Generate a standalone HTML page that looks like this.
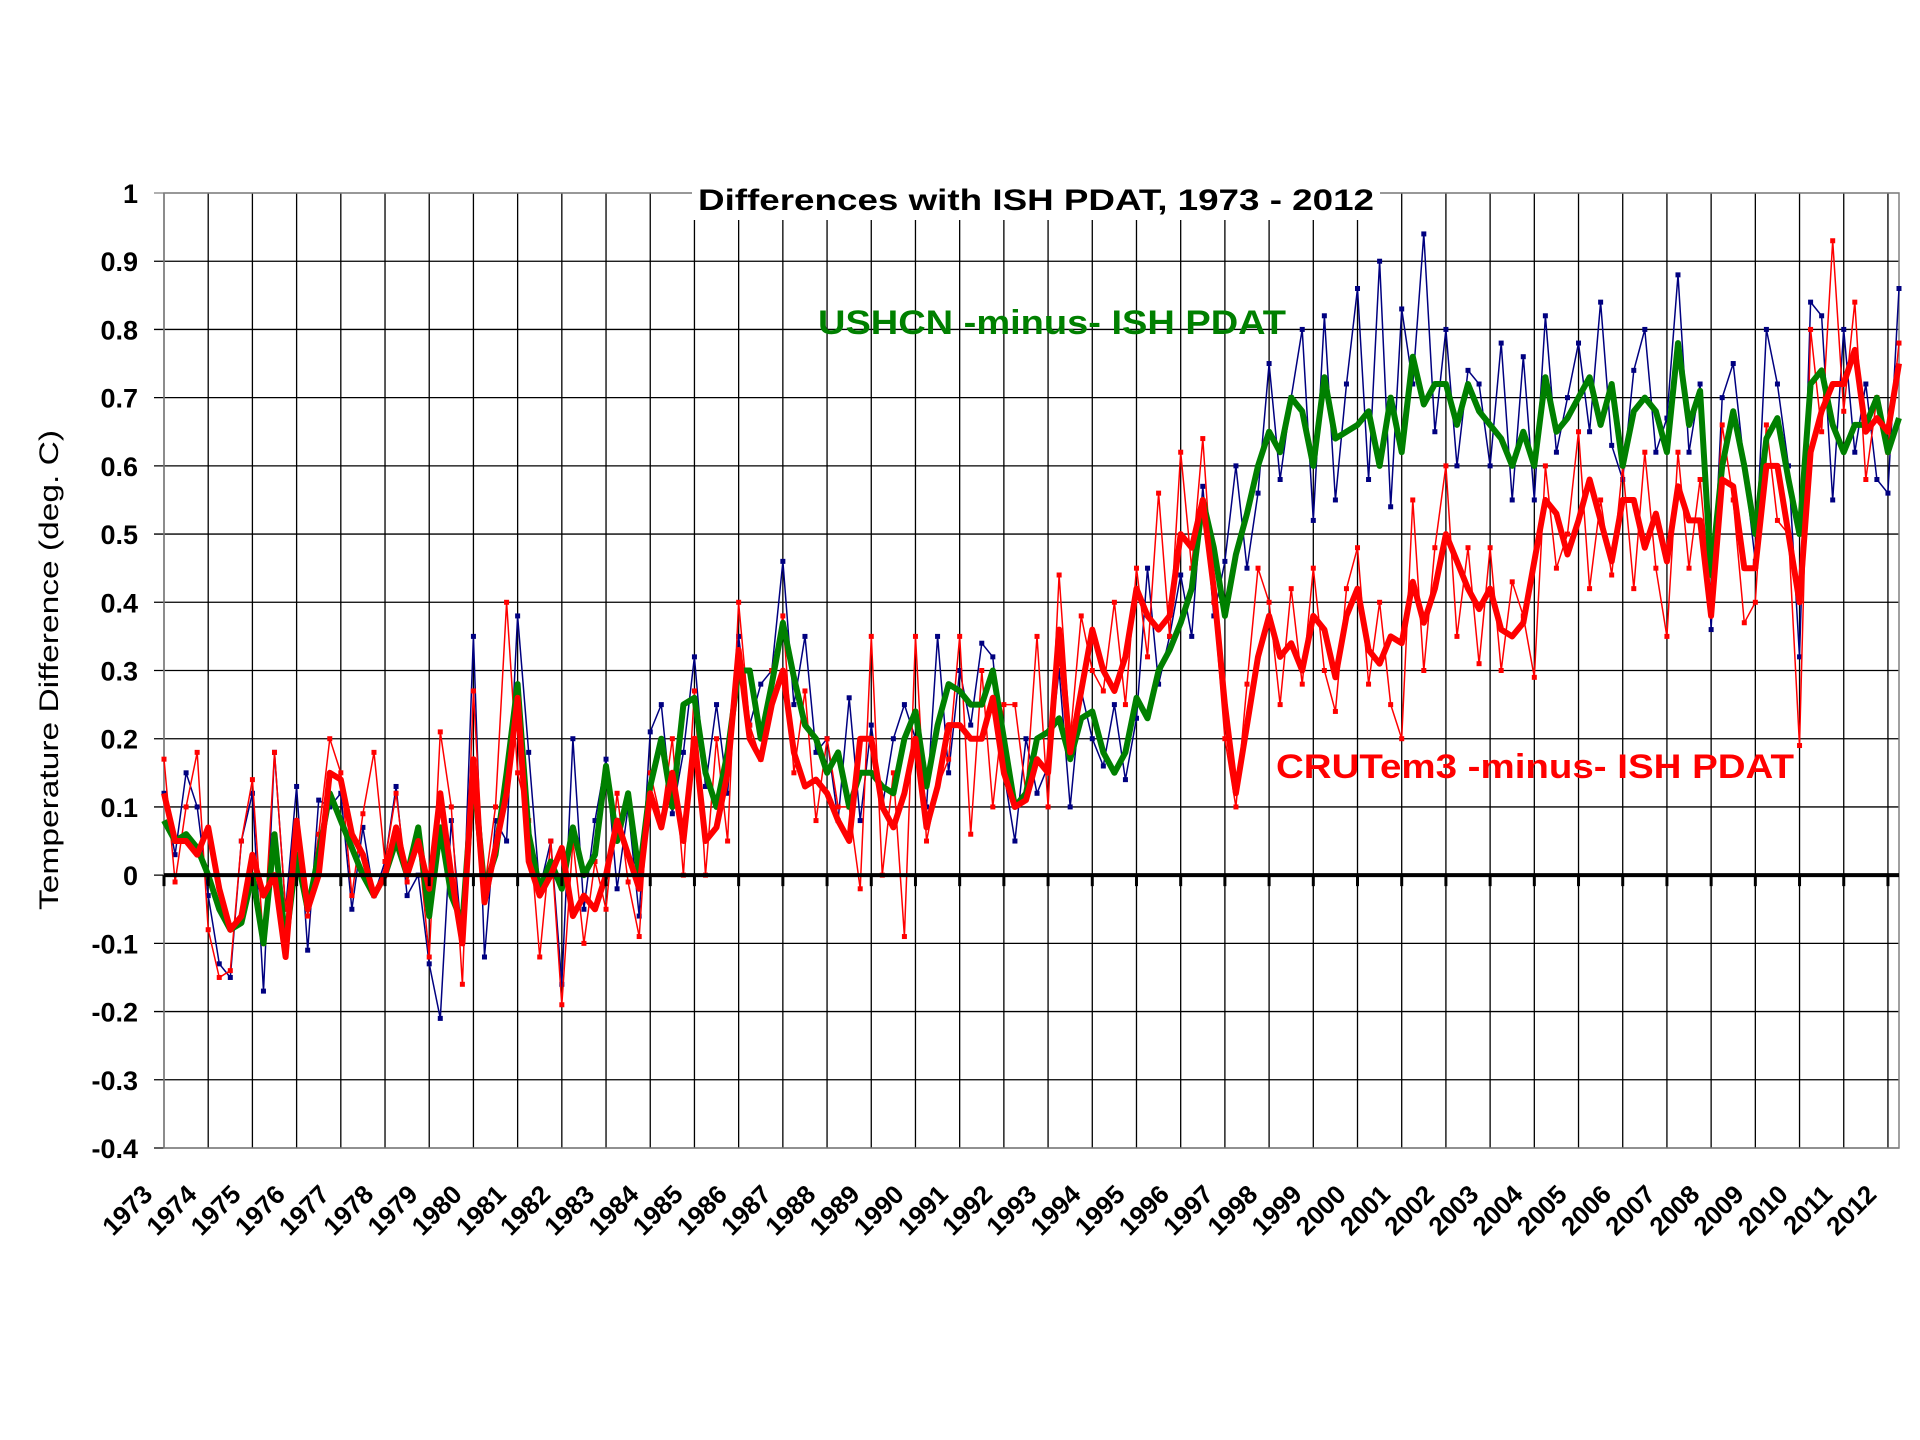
<!DOCTYPE html>
<html><head><meta charset="utf-8"><title>Differences with ISH PDAT</title>
<style>html,body{margin:0;padding:0;background:#fff}svg{display:block}</style></head>
<body>
<svg id="chart" width="1920" height="1440" viewBox="0 0 1920 1440" xmlns="http://www.w3.org/2000/svg" font-family="Liberation Sans, Arial, sans-serif">
<rect x="0" y="0" width="1920" height="1440" fill="#fff"/>
<g id="grid"></g>
<g id="series"></g>
<g id="axes"></g>
<rect x="692" y="180" width="688" height="40" fill="#fff"/>
<text x="1036" y="210" text-anchor="middle" font-size="30" font-weight="bold" textLength="676" lengthAdjust="spacingAndGlyphs">Differences with ISH PDAT, 1973 - 2012</text>
<text x="818" y="334" font-size="34" font-weight="bold" fill="#008000" textLength="468" lengthAdjust="spacingAndGlyphs">USHCN -minus- ISH PDAT</text>
<text x="1276" y="778" font-size="34" font-weight="bold" fill="#ff0000" textLength="518" lengthAdjust="spacingAndGlyphs">CRUTem3 -minus- ISH PDAT</text>
<text transform="translate(58,670) rotate(-90)" text-anchor="middle" font-size="27" textLength="480" lengthAdjust="spacingAndGlyphs">Temperature Difference (deg. C)</text>
</svg>
<script>
const yTicks = [1, 0.9, 0.8, 0.7, 0.6, 0.5, 0.4, 0.3, 0.2, 0.1, 0, -0.1, -0.2, -0.3, -0.4];
const yTickLabels = ["1","0.9","0.8","0.7","0.6","0.5","0.4","0.3","0.2","0.1","0","-0.1","-0.2","-0.3","-0.4"];
const years = [1973,1974,1975,1976,1977,1978,1979,1980,1981,1982,1983,1984,1985,1986,1987,1988,1989,1990,1991,1992,1993,1994,1995,1996,1997,1998,1999,2000,2001,2002,2003,2004,2005,2006,2007,2008,2009,2010,2011,2012];
// quarterly values
const ushcnRaw = [
0.12,0.03,0.15,0.10, -0.03,-0.13,-0.15,0.05, 0.12,-0.17,0.18,-0.05, 0.13,-0.11,0.11,0.10, 0.12,-0.05,0.07,-0.03,
0.02,0.13,-0.03,0.00, -0.13,-0.21,0.08,-0.10, 0.35,-0.12,0.08,0.05, 0.38,0.18,-0.02,0.05, -0.16,0.20,-0.05,0.08,
0.17,-0.02,0.10,-0.06, 0.21,0.25,0.09,0.18, 0.32,0.13,0.25,0.12, 0.35,0.22,0.28,0.30, 0.46,0.25,0.35,0.18,
0.20,0.08,0.26,0.08, 0.22,0.10,0.20,0.25, 0.20,0.10,0.35,0.15, 0.30,0.22,0.34,0.32, 0.15,0.05,0.20,0.12,
0.16,0.30,0.10,0.27, 0.20,0.16,0.25,0.14, 0.23,0.45,0.28,0.35, 0.44,0.35,0.57,0.38, 0.46,0.60,0.45,0.56,
0.75,0.58,0.70,0.80, 0.52,0.82,0.55,0.72, 0.86,0.58,0.90,0.54, 0.83,0.72,0.94,0.65, 0.80,0.60,0.74,0.72,
0.60,0.78,0.55,0.76, 0.55,0.82,0.62,0.70, 0.78,0.65,0.84,0.63, 0.58,0.74,0.80,0.62, 0.67,0.88,0.62,0.72,
0.36,0.70,0.75,0.60, 0.46,0.80,0.72,0.60, 0.32,0.84,0.82,0.55, 0.80,0.62,0.72,0.58, 0.56,0.86];
const crutemRaw = [
0.17,-0.01,0.10,0.18, -0.08,-0.15,-0.14,0.05, 0.14,-0.10,0.18,-0.05, 0.07,-0.06,0.06,0.20, 0.15,-0.03,0.09,0.18,
0.02,0.12,-0.01,0.05, -0.12,0.21,0.10,-0.16, 0.27,-0.02,0.10,0.40, 0.15,0.08,-0.12,0.05, -0.19,0.05,-0.10,0.02,
-0.05,0.12,-0.01,-0.09, 0.15,0.08,0.20,0.00, 0.27,0.00,0.20,0.05, 0.40,0.22,0.17,0.30, 0.38,0.15,0.27,0.08,
0.20,0.10,0.10,-0.02, 0.35,0.00,0.15,-0.09, 0.35,0.05,0.13,0.17, 0.35,0.06,0.30,0.10, 0.25,0.25,0.12,0.35,
0.10,0.44,0.20,0.38, 0.30,0.27,0.40,0.25, 0.45,0.32,0.56,0.35, 0.62,0.45,0.64,0.40, 0.20,0.10,0.28,0.45,
0.40,0.25,0.42,0.28, 0.45,0.30,0.24,0.42, 0.48,0.28,0.40,0.25, 0.20,0.55,0.30,0.48, 0.60,0.35,0.48,0.31,
0.48,0.30,0.43,0.38, 0.29,0.60,0.45,0.50, 0.65,0.42,0.55,0.44, 0.60,0.42,0.62,0.45, 0.35,0.62,0.45,0.58,
0.40,0.66,0.55,0.37, 0.40,0.66,0.52,0.50, 0.19,0.80,0.65,0.93, 0.68,0.84,0.58,0.70, 0.62,0.78];
const ushcnSmooth = [
0.08,0.05,0.06,0.04, 0.00,-0.05,-0.08,-0.07, 0.00,-0.10,0.06,-0.10, 0.03,-0.05,0.03,0.12, 0.08,0.04,0.00,-0.03,
0.00,0.05,0.00,0.07, -0.06,0.07,-0.03,-0.07, 0.15,-0.02,0.03,0.15, 0.28,0.06,-0.02,0.02, -0.02,0.07,0.00,0.03,
0.16,0.05,0.12,0.00, 0.13,0.20,0.10,0.25, 0.26,0.15,0.10,0.18, 0.30,0.30,0.20,0.28, 0.37,0.29,0.22,0.20,
0.15,0.18,0.10,0.15, 0.15,0.13,0.12,0.20, 0.24,0.13,0.22,0.28, 0.27,0.25,0.25,0.30, 0.20,0.10,0.12,0.20,
0.21,0.23,0.17,0.23, 0.24,0.18,0.15,0.18, 0.26,0.23,0.30,0.33, 0.37,0.42,0.55,0.48, 0.38,0.47,0.53,0.60,
0.65,0.62,0.70,0.68, 0.60,0.73,0.64,0.65, 0.66,0.68,0.60,0.70, 0.62,0.76,0.69,0.72, 0.72,0.66,0.72,0.68,
0.66,0.64,0.60,0.65, 0.60,0.73,0.65,0.67, 0.70,0.73,0.66,0.72, 0.60,0.68,0.70,0.68, 0.62,0.78,0.66,0.71,
0.44,0.60,0.68,0.60, 0.50,0.64,0.67,0.58, 0.50,0.72,0.74,0.66, 0.62,0.66,0.66,0.70, 0.62,0.67];
const crutemSmooth = [
0.12,0.05,0.05,0.03, 0.07,-0.02,-0.08,-0.06, 0.03,-0.03,0.00,-0.12, 0.08,-0.05,0.00,0.15, 0.14,0.06,0.03,-0.03,
0.00,0.07,0.00,0.05, -0.02,0.12,0.00,-0.10, 0.17,-0.04,0.04,0.12, 0.26,0.02,-0.03,0.00, 0.04,-0.06,-0.03,-0.05,
0.00,0.08,0.03,-0.02, 0.12,0.07,0.15,0.05, 0.20,0.05,0.07,0.15, 0.33,0.20,0.17,0.25, 0.30,0.18,0.13,0.14,
0.12,0.08,0.05,0.20, 0.20,0.10,0.07,0.12, 0.20,0.07,0.13,0.22, 0.22,0.20,0.20,0.26, 0.15,0.10,0.11,0.17,
0.15,0.36,0.18,0.27, 0.36,0.30,0.27,0.32, 0.42,0.38,0.36,0.38, 0.50,0.48,0.55,0.42, 0.25,0.12,0.22,0.32,
0.38,0.32,0.34,0.30, 0.38,0.36,0.29,0.38, 0.42,0.33,0.31,0.35, 0.34,0.43,0.37,0.42, 0.50,0.46,0.42,0.39,
0.42,0.36,0.35,0.37, 0.46,0.55,0.53,0.47, 0.52,0.58,0.52,0.46, 0.55,0.55,0.48,0.53, 0.46,0.57,0.52,0.52,
0.38,0.58,0.57,0.45, 0.45,0.60,0.60,0.50, 0.40,0.62,0.68,0.72, 0.72,0.77,0.65,0.67, 0.65,0.75];

const NS = "http://www.w3.org/2000/svg";
const L = 164, R = 1899, T = 193, B = 1148;
const yMin = -0.4, yMax = 1.0;
const xSpan = 39.25;
function yScale(v){ return B - (v - yMin) / (yMax - yMin) * (B - T); }
function xScale(t){ return L + t / xSpan * (R - L); }
function mk(tag, attrs, parent){ const e = document.createElementNS(NS, tag); for (const k in attrs) e.setAttribute(k, attrs[k]); parent.appendChild(e); return e; }

const grid = document.getElementById('grid');
const axes = document.getElementById('axes');
const series = document.getElementById('series');

yTicks.forEach((v, i) => {
  const y = yScale(v);
  const ln = mk('line', {x1: L - 10, x2: R, y1: y, y2: y, stroke: (i === 0) ? '#808080' : '#000', 'stroke-width': 1.3}, grid);
  
  
  const tx = mk('text', {x: 138, y: y + 10, 'text-anchor': 'end', 'font-size': 27, 'font-weight': 'bold'}, axes);
  tx.textContent = yTickLabels[i];
  
  
});

years.forEach((yr, i) => {
  const x = xScale(i);
  const ln = mk('line', {x1: x, x2: x, y1: T, y2: B, stroke: '#000', 'stroke-width': 1.3}, grid);
  
  
  const tk = mk('line', {x1: x, x2: x, y1: yScale(0), y2: yScale(0) + 11, stroke: '#000', 'stroke-width': 3}, axes);
  
  
  const lx = x - 10, ly = 1196;
  const tx = mk('text', {x: lx, y: ly, 'text-anchor': 'end', 'font-size': 26, 'font-weight': 'bold', transform: 'rotate(-45 ' + lx + ' ' + ly + ')'}, axes);
  tx.textContent = String(yr);
  
  
});

const border = mk('rect', {x: L, y: T, width: R - L, height: B - T, fill: 'none', stroke: '#808080', 'stroke-width': 1.5}, grid);



function pts(arr){ return arr.map((v, i) => xScale(i * 0.25).toFixed(1) + ',' + yScale(v).toFixed(1)).join(' '); }

function drawRaw(arr, color, name){
  const pl = mk('polyline', {points: pts(arr), fill: 'none', stroke: color, 'stroke-width': 1.5}, series);
  
  
  arr.forEach((v, i) => {
    const c = mk('rect', {x: xScale(i * 0.25) - 2.5, y: yScale(v) - 2.5, width: 5, height: 5, fill: color}, series);
    
    
  });
}
drawRaw(ushcnRaw, '#000080', 'ushcn-raw');
drawRaw(crutemRaw, '#ff0000', 'crutem3-raw');

const zl = mk('line', {x1: L, x2: R, y1: yScale(0), y2: yScale(0), stroke: '#000', 'stroke-width': 4}, axes);



const g1 = mk('polyline', {points: pts(ushcnSmooth), fill: 'none', stroke: '#008000', 'stroke-width': 6, 'stroke-linejoin': 'round'}, series);


const r1 = mk('polyline', {points: pts(crutemSmooth), fill: 'none', stroke: '#ff0000', 'stroke-width': 6, 'stroke-linejoin': 'round'}, series);


</script>
</body></html>
